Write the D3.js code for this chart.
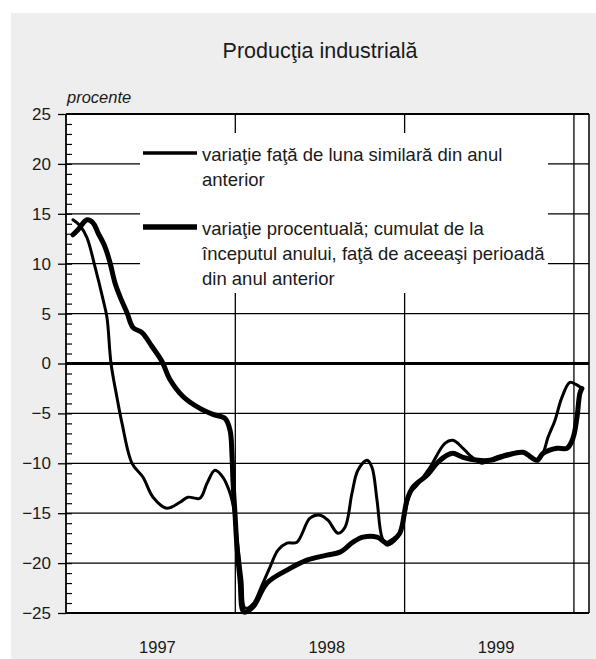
<!DOCTYPE html>
<html><head><meta charset="utf-8">
<script src="https://cdn.jsdelivr.net/npm/d3@7"></script>
<style>
body{margin:0;background:#fff}
svg text{font-family:"Liberation Sans",Arial,sans-serif;fill:#1a1a1a}
</style>
</head><body><svg id="c" width="596" height="659"></svg>
<script>
const title = "Producţia industrială";
const unitLabel = "procente";
const yTicks = [25,20,15,10,5,0,-5,-10,-15,-20,-25];
const yearLabels = ["1997","1998","1999"];
const yearLabelPos = [1997.54,1998.54,1999.54];
const yearBounds = [1998,1999,2000];
const legendLabels = [
  ["variaţie faţă de luna similară din anul","anterior"],
  ["variaţie procentuală; cumulat de la","începutul anului, faţă de aceeaşi perioadă","din anul anterior"]
];
// monthly y/y variation (thin line): time in decimal years, value in %
const tMonthly = [1997.041,1997.083,1997.124,1997.171,1997.219,1997.242,1997.266,1997.301,1997.331,1997.390,1997.455,1997.514,1997.596,1997.673,1997.720,1997.791,1997.833,1997.880,1997.927,1997.969,1997.992,1998.016,1998.039,1998.057,1998.104,1998.158,1998.205,1998.252,1998.305,1998.364,1998.441,1998.500,1998.547,1998.606,1998.648,1998.689,1998.724,1998.778,1998.807,1998.837,1998.866,1998.896,1998.955,1998.990,1999.032,1999.073,1999.150,1999.238,1999.285,1999.345,1999.386,1999.457,1999.522,1999.622,1999.699,1999.782,1999.817,1999.847,1999.888,1999.929,1999.976,2000.012,2000.047];
const vMonthly = [14.4,13.8,12.6,9.7,6.4,4.6,0.0,-3.4,-6.0,-10.0,-11.4,-13.4,-14.5,-13.9,-13.4,-13.5,-12.0,-10.7,-11.4,-13.0,-14.7,-18.4,-21.7,-24.5,-24.1,-22.2,-20.4,-18.7,-18.0,-17.9,-15.5,-15.2,-15.7,-17.0,-16.4,-13.0,-10.7,-9.7,-10.4,-13.7,-17.4,-18.2,-17.5,-16.0,-13.0,-12.2,-10.4,-8.0,-7.7,-8.5,-9.2,-10.0,-9.5,-9.0,-8.9,-9.7,-9.0,-7.4,-5.7,-3.4,-1.9,-2.1,-2.5];
// cumulative since start of year (thick line)
const tCumul = [1997.041,1997.071,1997.124,1997.159,1997.189,1997.230,1997.260,1997.289,1997.319,1997.360,1997.396,1997.449,1997.508,1997.567,1997.614,1997.691,1997.791,1997.868,1997.939,1997.969,1997.980,1997.986,1997.998,1998.010,1998.028,1998.051,1998.104,1998.187,1998.305,1998.423,1998.541,1998.618,1998.695,1998.754,1998.837,1998.896,1998.931,1998.972,1999.014,1999.049,1999.132,1999.191,1999.250,1999.285,1999.345,1999.433,1999.504,1999.604,1999.699,1999.782,1999.817,1999.900,1999.959,1999.994,2000.018,2000.035,2000.047];
const vCumul = [12.9,13.4,14.4,14.1,13.1,11.7,10.1,8.1,6.7,5.1,3.6,3.1,1.7,0.2,-1.6,-3.3,-4.5,-5.1,-5.5,-6.7,-9.0,-11.7,-15.0,-18.4,-21.7,-24.9,-24.4,-22.0,-20.7,-19.7,-19.2,-18.9,-17.9,-17.4,-17.4,-18.0,-17.7,-17.0,-13.7,-12.4,-11.2,-10.0,-9.2,-9.0,-9.4,-9.7,-9.7,-9.2,-8.9,-9.7,-9.0,-8.5,-8.5,-7.5,-5.4,-3.0,-2.5];

const svg = d3.select("#c");
const L=66,R=589,T=114,B=613;
const x = d3.scaleLinear().domain([1997,2000.089]).range([L,R]);
const y = d3.scaleLinear().domain([-25,25]).range([B,T]);

svg.append("rect").attr("x",11).attr("y",13).attr("width",585).attr("height",646).attr("fill","#eeeeee");
svg.append("rect").attr("x",L).attr("y",T).attr("width",R-L).attr("height",B-T).attr("fill","#fff");

// grid
svg.append("g").selectAll("line").data(yTicks.filter(d=>d!==25&&d!==-25)).join("line")
  .attr("x1",L).attr("x2",R).attr("y1",d=>y(d)).attr("y2",d=>y(d))
  .attr("stroke","#000").attr("stroke-width",d=>d===0?3:1.3);
svg.append("g").selectAll("line").data(yearBounds).join("line")
  .attr("x1",d=>x(d)).attr("x2",d=>x(d)).attr("y1",T).attr("y2",B)
  .attr("stroke","#000").attr("stroke-width",1.3);

// legend background
svg.append("rect").attr("x",140).attr("y",133).attr("width",408).attr("height",160).attr("fill","#fff");

// series
const line = d3.line().x(d=>x(d[0])).y(d=>y(d[1])).curve(d3.curveCatmullRom.alpha(0.5));
svg.append("path").datum(tMonthly.map((t,i)=>[t,vMonthly[i]])).attr("d",line)
  .attr("fill","none").attr("stroke","#000").attr("stroke-width",3).attr("stroke-linejoin","round").attr("stroke-linecap","round");
svg.append("path").datum(tCumul.map((t,i)=>[t,vCumul[i]])).attr("d",line)
  .attr("fill","none").attr("stroke","#000").attr("stroke-width",5).attr("stroke-linejoin","round").attr("stroke-linecap","round");

// frame
svg.append("line").attr("x1",L).attr("x2",R).attr("y1",T).attr("y2",T).attr("stroke","#000").attr("stroke-width",2);
svg.append("line").attr("x1",L).attr("x2",R).attr("y1",B).attr("y2",B).attr("stroke","#000").attr("stroke-width",2);
svg.append("line").attr("x1",R).attr("x2",R).attr("y1",T).attr("y2",B).attr("stroke","#000").attr("stroke-width",1.5);
svg.append("line").attr("x1",L).attr("x2",L).attr("y1",T).attr("y2",B).attr("stroke","#000").attr("stroke-width",1.8);

// y axis
const ya = svg.append("g").attr("transform",`translate(${L},0)`)
  .call(d3.axisLeft(y).tickValues(yTicks).tickSize(8).tickPadding(7));
ya.select(".domain").remove();
ya.selectAll(".tick line").attr("stroke","#000").attr("stroke-width",1.3);
ya.selectAll(".tick text").attr("font-size",17).attr("font-family",null).attr("fill","#1a1a1a");
const ym = svg.append("g").attr("transform",`translate(${L},0)`)
  .call(d3.axisRight(y).tickValues(d3.range(-24,25)).tickSize(6).tickFormat(""));
ym.select(".domain").remove();
ym.selectAll(".tick line").attr("stroke","#000").attr("stroke-width",1.2);

// x labels
svg.append("g").selectAll("text").data(yearLabels).join("text")
  .attr("x",(d,i)=>x(yearLabelPos[i])).attr("y",653).attr("text-anchor","middle")
  .attr("font-size",16.5).text(d=>d);

// title & unit
svg.append("text").attr("x",320).attr("y",58).attr("text-anchor","middle").attr("font-size",21.5).text(title);
svg.append("text").attr("x",67).attr("y",103).attr("font-size",16.5).attr("font-style","italic").text(unitLabel);

// legend
const legY = [153,227], legW=[3.5,5.5];
legendLabels.forEach((lines,i)=>{
  svg.append("line").attr("x1",143).attr("x2",197).attr("y1",legY[i]).attr("y2",legY[i])
    .attr("stroke","#000").attr("stroke-width",legW[i]);
  svg.append("g").selectAll("text").data(lines).join("text")
    .attr("x",202).attr("y",(d,j)=>legY[i]+8+j*25).attr("font-size",18.5).text(d=>d);
});
</script></body></html>
